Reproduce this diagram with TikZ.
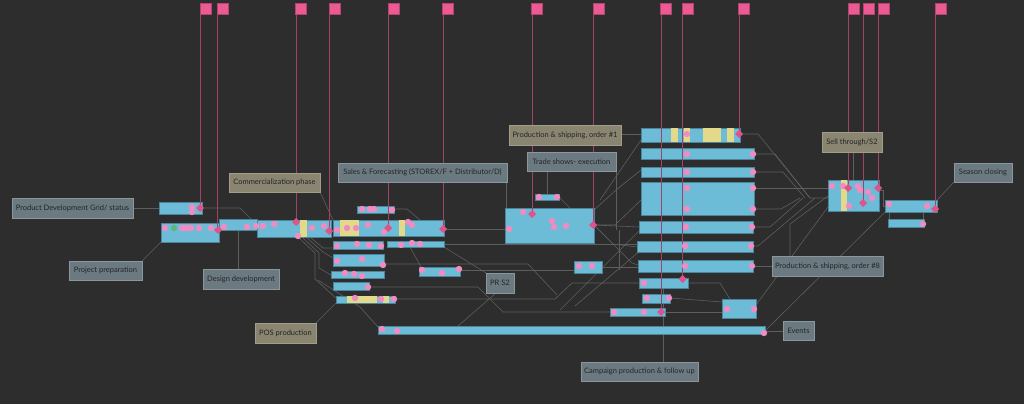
\documentclass[tikz,border=0pt]{standalone}
\usepackage{fontspec}
\setmainfont{Lato}
\definecolor{bgc}{HTML}{2D2D2D}
\definecolor{barf}{HTML}{6CBCD8}
\definecolor{bard}{HTML}{4A8599}
\definecolor{yel}{HTML}{E3D98A}
\definecolor{dotc}{HTML}{F38BC3}
\definecolor{diac}{HTML}{E0528A}
\definecolor{flagf}{HTML}{EC5A94}
\definecolor{flagd}{HTML}{B2456F}
\definecolor{flinec}{HTML}{9E4468}
\definecolor{linec}{HTML}{5E5E5E}
\definecolor{labf}{HTML}{6B7A80}
\definecolor{labd}{HTML}{8A979C}
\definecolor{begf}{HTML}{8A8570}
\definecolor{begd}{HTML}{A29D88}
\definecolor{labt}{HTML}{222527}
\definecolor{grn}{HTML}{5CB87A}
\tikzset{
  bar/.style={draw=bard, fill=barf, line width=0.6pt, inner sep=0pt, outer sep=0pt},
  graylab/.style={draw=labd, fill=labf, line width=0.6pt, text=labt, inner sep=0pt, font=\fontsize{7.5}{8.5}\selectfont},
  beigelab/.style={draw=begd, fill=begf, line width=0.6pt, text=labt, inner sep=0pt, font=\fontsize{7.5}{8.5}\selectfont},
  conn/.style={draw=linec, line width=0.6pt},
  fline/.style={draw=flinec, line width=0.65pt},
}
\newcommand\blk[5]{\node[bar, anchor=north west, minimum width={(#4-#2)*1pt}, minimum height={(#5-#3)*1pt}] (#1) at (#2,#3) {};}
\newcommand\lab[7]{\node[#2, minimum width={(#5-#3)*1pt}, minimum height={(#6-#4)*1pt}] (#1) at ({(#3+#5)/2},{(#4+#6)/2}) {#7};}
\newcommand\ys[4]{\fill[yel] (#1,#2) rectangle (#3,#4);}
\newcommand\dt[2]{\fill[dotc] (#1,#2) circle (3.2pt);}
\newcommand\dia[2]{\fill[diac] (#1,#2-4) -- (#1+4,#2) -- (#1,#2+4) -- (#1-4,#2) -- cycle;}
\newcommand\flagline[2]{\draw[fline] (#1,14) -- (#1,#2);}
\newcommand\flagbox[1]{\filldraw[fill=flagf, draw=flagd, line width=0.6pt] (#1,3) rectangle (#1+11,14);}
\begin{document}
\begin{tikzpicture}[x=1pt,y=-1pt]
\useasboundingbox (0,0) rectangle (1024,404);
\fill[bgc] (0,0) rectangle (1024,404);

% ---------- gray connectors (behind) ----------
\draw[conn] (133,208) -- (159,208);
\draw[conn] (142,261) -- (161,242);
\draw[conn] (238,269) -- (238,230);
\draw[conn] (320,192) -- (333,220);
\draw[conn] (316,323) -- (336,303);
\draw[conn] (444,247) -- (486,273);
\draw[conn] (547,171) -- (547,194);
\draw[conn] (621,134) -- (641,134);
\draw[conn] (753,266) -- (772,266);
\draw[conn] (765,331) -- (783,331);
\draw[conn] (663,362) -- (663,288);
\draw[conn] (853,152) -- (853,180);
\draw[conn] (954,182) -- (937,200);
\draw[conn] (506,182) -- (506,208);

\draw[conn] (202,208) -- (240,208) -- (252,220);
\draw[conn] (298,237) -- (315,253) -- (315,279) -- (336,298);
\draw[conn] (302,237) -- (319,253) -- (319,268) -- (331,275);
\draw[conn] (306,237) -- (323,252) -- (333,258);
\draw[conn] (310,237) -- (323,248) -- (333,248);
\draw[conn] (318,280) -- (360,307) -- (378,327);
\draw[conn] (394,209) -- (407,209) -- (420,220);
\draw[conn] (444,229) -- (505,229);
\draw[conn] (444,244) -- (637,244);
\draw[conn] (410,247) -- (421,267);
\draw[conn] (384,264) -- (528,264) -- (557,295);
\draw[conn] (395,299) -- (555,299) -- (572,283) -- (639,283);
\draw[conn] (369,287) -- (478,287) -- (503,312) -- (610,312);
\draw[conn] (460,270) -- (574,270);
\draw[conn] (496,293) -- (458,326);
\draw[conn] (594,225) -- (615,225) -- (641,200);
\draw[conn] (594,225) -- (639,227);
\draw[conn] (594,225) -- (613,244) -- (637,247);
\draw[conn] (594,225) -- (632,263) -- (638,265);
\draw[conn] (594,210) -- (616,190) -- (641,170);
\draw[conn] (600,200) -- (641,140);
\draw[conn] (616,163) -- (616,230);
\draw[conn] (619,230) -- (619,270);
\draw[conn] (602,267) -- (638,267);
\draw[conn] (559,197) -- (570,208);
\draw[conn] (560,310) -- (639,231);
\draw[conn] (575,306) -- (641,250);
\draw[conn] (688,283) -- (720,283) -- (730,299);
\draw[conn] (670,298) -- (722,302);
\draw[conn] (665,312) -- (722,312);
\draw[conn] (740,134) -- (758,134) -- (810,198) -- (828,198);
\draw[conn] (754,154) -- (775,154) -- (810,198);
\draw[conn] (754,172) -- (783,172) -- (805,198);
\draw[conn] (754,188) -- (828,188);
\draw[conn] (754,209) -- (781,209) -- (800,198);
\draw[conn] (753,227) -- (770,227) -- (803,198);
\draw[conn] (751,246) -- (758,246) -- (815,198);
\draw[conn] (756,305) -- (828,207);
\draw[conn] (790,257) -- (790,224) -- (828,196);
\draw[conn] (765,331) -- (885,212);
\draw[conn] (879,190) -- (883,190) -- (883,206) -- (885,206);
\draw[conn] (889,212) -- (889,219);
\draw[conn] (923,212) -- (923,219);

% ---------- blue boxes ----------
\blk{pdg}{159}{202}{202}{214}
\blk{prep}{161}{223}{219}{242}
\blk{des}{219}{219}{257}{230}
\blk{com}{257}{220}{331}{237}
\blk{sabove}{357}{206}{394}{213}
\blk{sal}{333}{220}{444}{236}
\blk{rtwoa}{333}{241}{383}{249}
\blk{rtwob}{387}{241}{444}{247}
\blk{rthree}{333}{254}{384}{266}
\blk{rfour}{331}{271}{384}{278}
\blk{rfive}{333}{282}{369}{290}
\blk{posb}{336}{296}{395}{303}
\blk{smone}{419}{267}{460}{276}
\blk{evt}{378}{326}{765}{334}
\blk{tsa}{535}{194}{559}{200}
\blk{ts}{505}{208}{594}{243}
\blk{smtwo}{574}{261}{602}{273}
\blk{pone}{641}{128}{740}{142}
\blk{ptwo}{641}{148}{754}{159}
\blk{pthree}{641}{167}{754}{177}
\blk{pfour}{641}{182}{754}{215}
\blk{pfive}{639}{221}{753}{233}
\blk{psix}{637}{241}{753}{252}
\blk{pseven}{638}{260}{753}{272}
\blk{peight}{639}{278}{688}{288}
\blk{pnine}{642}{294}{670}{303}
\blk{pten}{610}{308}{665}{316}
\blk{pb}{722}{299}{756}{318}
\blk{st}{828}{180}{879}{211}
\blk{scone}{885}{200}{937}{212}
\blk{sctwo}{888}{219}{924}{227}

% yellow stripes
\ys{300}{220.4}{307}{236.6}
\ys{340}{220.4}{359}{235.6}
\ys{399}{220.4}{405}{235.6}
\ys{347}{296.4}{377}{302.6}
\ys{383}{296.4}{389}{302.6}
\ys{671}{128.4}{678}{141.6}
\ys{684}{128.4}{690}{141.6}
\ys{703}{128.4}{721}{141.6}
\ys{727}{128.4}{734}{141.6}
\ys{841}{180.4}{847}{210.6}

% ---------- flag lines ----------
\flagline{200}{208}
\flagline{217.5}{230}
\flagline{296}{222}
\flagline{329}{231}
\flagline{388}{228}
\flagline{443}{229}
\flagline{532}{214}
\flagline{593}{225}
\flagline{661}{312}
\flagline{682.5}{279}
\flagline{739}{134}
\flagline{848}{188}
\flagline{863}{203}
\flagline{878}{188}
\flagline{935}{209}

% ---------- dots ----------
\dt{192}{207}\dt{192}{212}
\dt{165}{228}\dt{182}{228}\dt{185}{228}\dt{188}{228}\dt{191}{228}\dt{199}{228}\dt{211}{228}
\fill[grn] (174,228) circle (3.2pt);
\dt{224}{227}\dt{247}{227}\dt{256}{226}
\dt{263}{226}\dt{274}{224}\dt{298}{236}\dt{312}{228}\dt{324}{226}
\dt{337}{230}\dt{347}{228}\dt{356}{228}\dt{368}{225}\dt{384}{232}\dt{408}{222}\dt{412}{225}
\dt{362}{209}\dt{370}{209}\dt{374}{209}\dt{392}{210}
\dt{337}{246}\dt{357}{244}\dt{369}{245}\dt{381}{246}
\dt{401}{245}\dt{412}{243}\dt{420}{244}
\dt{337}{261}\dt{362}{259}\dt{383}{265}
\dt{345}{273}\dt{354}{274}\dt{362}{276}
\dt{368}{287}
\dt{355}{298}\dt{381}{299}\dt{394}{299}
\dt{422}{270}\dt{442}{273}\dt{459}{269}
\dt{382}{329}\dt{397}{331}\dt{764}{333}
\dt{539}{197}\dt{557}{197}
\dt{523}{212}\dt{509}{229}\dt{552}{221}\dt{554}{227}\dt{566}{226}
\dt{579}{266}\dt{592}{266}
\dt{687}{134}
\dt{687}{154}\dt{753}{154}
\dt{687}{172}\dt{753}{172}
\dt{687}{188}\dt{753}{188}\dt{687}{209}\dt{753}{209}
\dt{686}{227}\dt{752}{227}
\dt{685}{246}\dt{751}{246}
\dt{685}{266}\dt{752}{266}
\dt{644}{283}
\dt{647}{298}\dt{669}{298}
\dt{614}{312}\dt{644}{312}
\dt{727}{309}\dt{754}{309}
\dt{832}{186}\dt{843}{186}\dt{858}{186}\dt{860}{190}\dt{868}{192}\dt{872}{198}\dt{849}{206}
\dt{889}{204}\dt{927}{206}
\dt{923}{224}

% ---------- diamonds ----------
\dia{200}{208}\dia{218}{230}\dia{296}{222}\dia{329}{231}\dia{388}{228}\dia{443}{229}
\dia{532}{214}\dia{593}{225}\dia{661}{312}\dia{682.5}{279}\dia{739}{134}
\dia{848}{188}\dia{863}{203}\dia{878}{188}\dia{935}{209}

% ---------- flags ----------
\flagbox{200}\flagbox{217.5}\flagbox{295.6}\flagbox{329}\flagbox{388}\flagbox{442.5}
\flagbox{531.7}\flagbox{593}\flagbox{660.7}\flagbox{682.5}\flagbox{738.7}
\flagbox{848}\flagbox{863}\flagbox{878}\flagbox{935}

% ---------- labels ----------
\lab{lpdg}{graylab}{12}{198}{133}{218}{Product Development Grid/ status}
\lab{lprep}{graylab}{69}{261}{142}{280}{Project preparation}
\lab{ldes}{graylab}{203}{269}{279}{289}{Design development}
\lab{lcom}{beigelab}{229}{173}{320}{192}{Commercialization phase}
\lab{lsal}{graylab}{338}{163}{507}{182}{Sales \& Forecasting (STOREX/F + Distributor/D)}
\lab{lpos}{beigelab}{255}{323}{316}{343}{POS production}
\lab{lpr}{graylab}{486}{273}{514}{293}{PR S2}
\lab{lts}{graylab}{527}{152}{616}{171}{Trade shows- execution}
\lab{lpone}{beigelab}{509}{125}{621}{145}{Production \& shipping, order \#1}
\lab{lpeight}{graylab}{772}{256}{883}{276}{Production \& shipping, order \#8}
\lab{levt}{graylab}{783}{321}{814}{340}{Events}
\lab{lcam}{graylab}{581}{362}{698}{381}{Campaign production \& follow up}
\lab{lst}{beigelab}{822}{132}{882}{152}{Sell through/S2}
\lab{lsc}{graylab}{954}{163}{1012}{182}{Season closing}
\end{tikzpicture}
\end{document}
